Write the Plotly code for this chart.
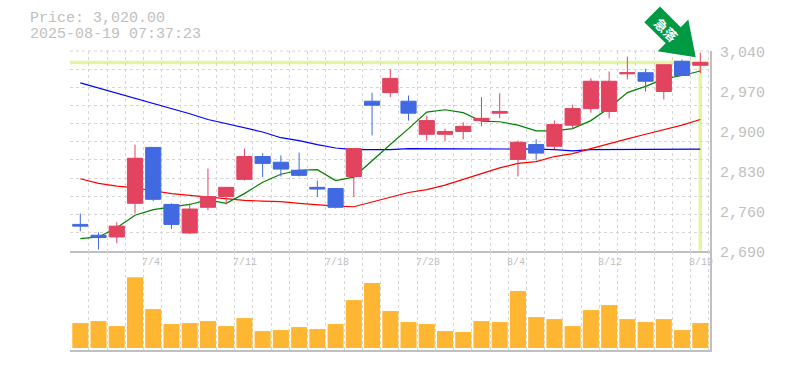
import plotly.graph_objects as go

dates = ["7/4", "7/11", "7/18", "7/28", "8/4", "8/12", "8/19"]
date_index = [4, 9, 14, 19, 24, 29, 34]
price_ticks = [2690, 2760, 2830, 2900, 2970, 3040]
last_price = 3020
caption = ["Price: 3,020.00", "2025-08-19 07:37:23"]

opens = [2736, 2717, 2714, 2773, 2871, 2771, 2721, 2766, 2785, 2815, 2855, 2845, 2831, 2801, 2799, 2820, 2952, 2967,
         2952, 2894, 2894, 2899, 2918, 2931, 2850, 2876, 2873, 2910, 2939, 2934, 3000, 3002, 2969, 3022, 3015]
highs = [2755, 2722, 2740, 2876, 2871, 2773, 2773, 2834, 2801, 2869, 2861, 2857, 2862, 2813, 2799, 2869, 2967, 3008,
         2962, 2927, 2904, 2915, 2959, 2966, 2883, 2885, 2918, 2946, 2992, 3004, 3030, 3009, 3016, 3025, 3037]
lows = [2724, 2692, 2703, 2755, 2777, 2728, 2719, 2761, 2771, 2813, 2819, 2820, 2820, 2784, 2764, 2784, 2892, 2959,
        2918, 2883, 2882, 2885, 2908, 2922, 2820, 2848, 2868, 2904, 2932, 2922, 2990, 2969, 2955, 2997, 3001]
closes = [2733, 2713, 2733, 2852, 2780, 2736, 2763, 2785, 2801, 2855, 2843, 2833, 2822, 2798, 2766, 2869, 2945, 2992,
          2931, 2918, 2899, 2908, 2922, 2934, 2880, 2861, 2911, 2939, 2987, 2987, 3002, 2987, 3016, 2997, 3020]
ma_short = [2711, 2714, 2730, 2752, 2762, 2767, 2771, 2779, 2773, 2790, 2810, 2824, 2831, 2832, 2813, 2819, 2848, 2876,
            2904, 2933, 2937, 2932, 2917, 2916, 2910, 2900, 2900, 2904, 2918, 2940, 2967, 2978, 2991, 2997, 3005]
ma_mid = [2816, 2808, 2803, 2800, 2795, 2790, 2787, 2784, 2781, 2778, 2777, 2776, 2773, 2770, 2768, 2767, 2775, 2783,
          2792, 2797, 2805, 2815, 2825, 2835, 2843, 2846, 2855, 2860, 2869, 2878, 2886, 2894, 2902, 2910, 2920]
ma_long = [2984, 2975, 2967, 2958, 2949, 2939, 2930, 2920, 2913, 2905, 2898, 2888, 2883, 2876, 2870, 2867, 2867, 2867,
           2869, 2869, 2869, 2869, 2868, 2869, 2868, 2868, 2867, 2865, 2867, 2867, 2868, 2868, 2868, 2868, 2868]
volumes = [75, 81, 66, 213, 117, 72, 75, 81, 66, 90, 51, 54, 63, 57, 72, 144, 195, 111,
           78, 72, 51, 48, 81, 78, 171, 93, 87, 66, 114, 129, 87, 78, 87, 54, 75]

x = list(range(len(closes)))
GREY = "#C0C0C0"
GRID = "#D6D6D6"
YELLOW = "#E4F5A0"
MONO = "Liberation Mono"
L, R, T, B = 70.0, 710.0, 50.5, 350.0


def px(v):
    return (v - L) / (R - L)


def py(v):
    return (B - v) / (B - T)


fig = go.Figure()
for vals, col in [(ma_long, "#0000FF"), (ma_mid, "#FF0000"), (ma_short, "#008000")]:
    fig.add_trace(go.Scatter(x=x, y=vals, mode="lines", line=dict(color=col, width=1.2), xaxis="x", yaxis="y",
                             showlegend=False, hoverinfo="skip"))
fig.add_trace(go.Bar(x=x, y=volumes, marker=dict(color="#FFB733", line=dict(width=0)), xaxis="x2", yaxis="y2",
                     showlegend=False, hoverinfo="skip"))
fig.add_trace(go.Candlestick(x=x, open=opens, high=highs, low=lows, close=closes, xaxis="x", yaxis="y3",
                             increasing=dict(line=dict(color="#E2435F", width=1), fillcolor="#E2435F"),
                             decreasing=dict(line=dict(color="#4169E1", width=1), fillcolor="#4169E1"),
                             whiskerwidth=0, showlegend=False, hoverinfo="skip"))

xr = [(L - 80.3) / 18.235, (R - 80.3) / 18.235]
yr = [2690, 3040]
grid_x = dict(range=xr, tick0=-0.53, dtick=1, showgrid=True, gridcolor=GRID, griddash="3px,3px", gridwidth=1,
              showticklabels=False, ticks="", zeroline=False, showline=True, linecolor=GREY, linewidth=1.5,
              rangeslider=dict(visible=False))
fig.update_layout(
    width=785, height=370, autosize=False, paper_bgcolor="white", plot_bgcolor="white",
    margin=dict(l=L, r=785 - R, t=T, b=370 - B, pad=0, autoexpand=False),
    bargap=0.12, boxgap=0.17, boxgroupgap=0, hovermode=False,
    xaxis=dict(grid_x, anchor="y"),
    xaxis2=dict(grid_x, anchor="y2", matches="x"),
    yaxis=dict(domain=[py(250.5), 1], range=yr, side="right", anchor="x", showticklabels=False,
               showgrid=False, zeroline=False, showline=True, linecolor=GREY, linewidth=1.5, ticks="",
               minor=dict(tick0=2690, dtick=350 / 11, showgrid=True, gridcolor=GRID, griddash="3px,3px",
                          gridwidth=1, ticks="")),
    yaxis2=dict(domain=[0, py(250.5)], range=[-6, 292.5], side="right", anchor="x2", showgrid=False, zeroline=False,
                showticklabels=False, ticks="", showline=True, linecolor=GREY, linewidth=1.5),
    yaxis3=dict(range=yr, overlaying="y", side="right", visible=False, anchor="x"),
)

fig.add_shape(type="line", xref="x", yref="y", x0=xr[0], x1=xr[1] - 0.05, y0=last_price, y1=last_price,
              line=dict(color=YELLOW, width=3.5), layer="below")
fig.add_shape(type="line", xref="x", yref="y", x0=x[-1], x1=x[-1], y0=2690, y1=last_price,
              line=dict(color=YELLOW, width=3.5), layer="below")
fig.add_shape(type="line", xref="paper", yref="paper", x0=0, x1=1, y0=1, y1=1,
              line=dict(color=GRID, width=1, dash="3px,3px"), layer="below")

arrow = [(660, 6), (680.7, 26.7), (688.3, 19), (695.7, 56.7), (657.7, 50.7), (665.7, 42.7), (644.3, 21.7)]
path = "M " + " L ".join(f"{px(a):.5f},{py(b):.5f}" for a, b in arrow) + " Z"
fig.add_shape(type="path", xref="paper", yref="paper", path=path, fillcolor="#009944", line=dict(width=0),
              layer="above")

fig.add_annotation(xref="paper", yref="paper", x=px(666), y=py(29), text="<b>急落</b>", textangle=45, showarrow=False,
                   xanchor="center", yanchor="middle", font=dict(family="Noto Sans CJK JP", size=13, color="white"))
for i, line in enumerate(caption):
    fig.add_annotation(xref="paper", yref="paper", x=px(29), y=py(17.5 + 16.5 * i), text=line, xanchor="left",
                       yanchor="middle", showarrow=False, font=dict(family=MONO, size=15, color=GREY), borderpad=0)
for d, i in zip(dates, date_index):
    fig.add_annotation(xref="x", yref="paper", x=i, y=py(262), text=d, xanchor="left", yanchor="middle", xshift=-12,
                       showarrow=False, font=dict(family=MONO, size=10, color=GREY), borderpad=0)
for v in price_ticks:
    fig.add_annotation(xref="paper", yref="y", x=px(719), y=v, yshift=-2.5, text=f"{v:,}", xanchor="left",
                       yanchor="middle", showarrow=False, font=dict(family=MONO, size=15, color=GREY), borderpad=0)

fig.write_html("out.html", config=dict(displayModeBar=False), post_script="document.body.style.margin='0';")
